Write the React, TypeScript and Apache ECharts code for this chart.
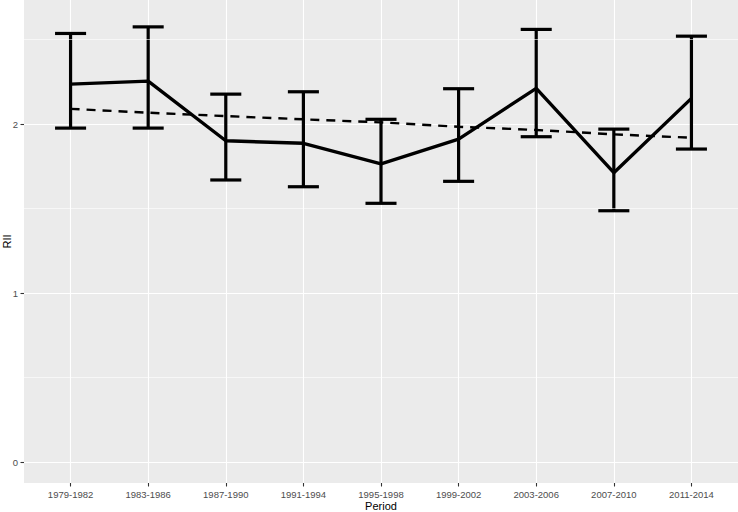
import React, { useEffect, useRef } from "react";
import * as echarts from "echarts";

const periods = [
  "1979-1982",
  "1983-1986",
  "1987-1990",
  "1991-1994",
  "1995-1998",
  "1999-2002",
  "2003-2006",
  "2007-2010",
  "2011-2014",
];
const riiValues = [2.236, 2.254, 1.901, 1.886, 1.764, 1.911, 2.211, 1.712, 2.152];
const lowerCI = [1.976, 1.976, 1.669, 1.629, 1.531, 1.661, 1.925, 1.487, 1.852];
const upperCI = [2.536, 2.575, 2.177, 2.191, 2.028, 2.209, 2.56, 1.97, 2.52];
const trendValues = [2.09, 2.067, 2.047, 2.028, 2.01, 1.984, 1.965, 1.939, 1.919];
const yMajorTicks = [0, 1, 2];
const yMinorTicks = [0.5, 1.5, 2.5];

const FONT = "'Liberation Sans', Arial, sans-serif";

export default function App() {
  const ref = useRef<HTMLDivElement>(null);

  useEffect(() => {
    if (!ref.current) return;
    const chart = echarts.init(ref.current, null, { renderer: "svg" });
    const idx = periods.map((_, i) => i);

    const option: any = {
      animation: false,
      textStyle: { fontFamily: FONT },
      grid: {
        left: 24,
        right: 0,
        top: 0,
        bottom: 29,
        show: true,
        backgroundColor: "#EBEBEB",
        borderWidth: 0,
        containLabel: false,
        outerBoundsMode: "none",
      },
      xAxis: {
        type: "value",
        min: -0.6,
        max: 8.6,
        axisLine: { show: false, onZero: false },
        axisTick: {
          show: true,
          customValues: idx,
          length: 3.5,
          lineStyle: { color: "#333333", width: 1.1 },
        },
        axisLabel: {
          customValues: idx,
          formatter: (v: number) => periods[Math.round(v)] ?? "",
          color: "#4D4D4D",
          fontSize: 9.5,
          margin: 6,
          fontFamily: FONT,
        },
        splitLine: { show: true, lineStyle: { color: "#FFFFFF", width: 1.1 } },
        name: "Period",
        nameLocation: "middle",
        nameGap: 17,
        nameMoveOverlap: false,
        nameTextStyle: { color: "#000000", fontSize: 11, lineHeight: 11, fontFamily: FONT },
      },
      yAxis: {
        type: "value",
        min: -0.124,
        max: 2.734,
        axisLine: { show: false, onZero: false },
        axisTick: {
          show: true,
          customValues: yMajorTicks,
          length: 3.5,
          lineStyle: { color: "#333333", width: 1.1 },
        },
        axisLabel: {
          customValues: yMajorTicks,
          formatter: (v: number) => String(Math.round(v)),
          color: "#4D4D4D",
          fontSize: 9.5,
          margin: 6,
          fontFamily: FONT,
        },
        splitLine: { show: true, lineStyle: { color: "#FFFFFF", width: 1.1 } },
        name: "RII",
        nameLocation: "middle",
        nameGap: 12,
        nameMoveOverlap: false,
        nameTextStyle: { color: "#000000", fontSize: 11, lineHeight: 11, fontFamily: FONT },
      },
      series: [
        {
          type: "line",
          data: [],
          z: 1,
          silent: true,
          markLine: {
            silent: true,
            symbol: ["none", "none"],
            label: { show: false },
            lineStyle: { color: "#FFFFFF", width: 0.6, type: "solid" },
            data: yMinorTicks.map((v) => ({ yAxis: v })),
            animation: false,
          },
        },
        {
          type: "custom",
          z: 3,
          data: idx.map((i) => [i, lowerCI[i], upperCI[i]]),
          encode: { x: 0, y: [1, 2] },
          renderItem: (_params: any, api: any) => {
            const x = api.value(0);
            const lo = api.value(1);
            const hi = api.value(2);
            const pLo = api.coord([x, lo]);
            const pHi = api.coord([x, hi]);
            const pL = api.coord([x - 0.2, lo]);
            const pR = api.coord([x + 0.2, lo]);
            const half = (pR[0] - pL[0]) / 2;
            const style = { stroke: "#000000", lineWidth: 3.2, fill: "none" };
            return {
              type: "group",
              children: [
                { type: "line", shape: { x1: pHi[0], y1: pHi[1], x2: pLo[0], y2: pLo[1] }, style },
                { type: "line", shape: { x1: pHi[0] - half, y1: pHi[1], x2: pHi[0] + half, y2: pHi[1] }, style },
                { type: "line", shape: { x1: pLo[0] - half, y1: pLo[1], x2: pLo[0] + half, y2: pLo[1] }, style },
              ],
            };
          },
        },
        {
          type: "line",
          z: 4,
          data: idx.map((i) => [i, riiValues[i]]),
          symbol: "none",
          lineStyle: { color: "#000000", width: 3.4 },
        },
        {
          type: "line",
          z: 4,
          data: idx.map((i) => [i, trendValues[i]]),
          symbol: "none",
          lineStyle: { color: "#000000", width: 2.4, type: [9, 7] },
        },
      ],
    };

    chart.setOption(option);
    return () => chart.dispose();
  }, []);

  return (
    <div
      ref={ref}
      style={{ position: "absolute", left: 0, top: 0, width: 738, height: 512 }}
    />
  );
}
